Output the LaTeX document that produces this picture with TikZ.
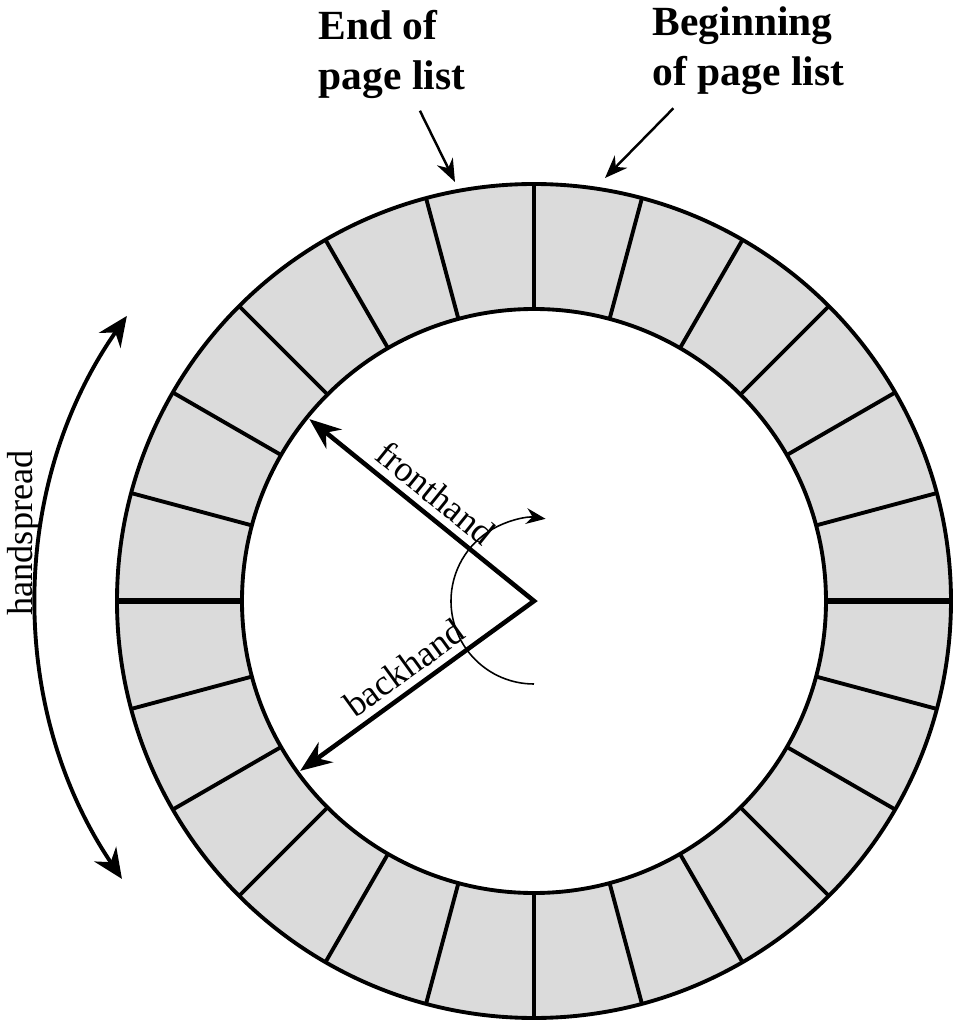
\documentclass[tikz,border=0pt]{standalone}
\usepackage{fontspec}
\setmainfont{Liberation Serif}
\usetikzlibrary{arrows.meta}

\begin{document}
\begin{tikzpicture}[x=0.01cm,y=0.01cm,
  spoke/.style={line width=1.1pt},
  handline/.style={line width=1.3pt,line join=miter,{Stealth[length=9pt,width=7pt]}-{Stealth[length=9pt,width=7pt]}},
  pointer/.style={line width=0.7pt,-{Stealth[length=6.5pt,width=5pt]}},
  tag/.style={font=\fontsize{11.8}{14.2}\selectfont\bfseries,align=left,inner sep=0pt},
  handtag/.style={font=\fontsize{10.3}{12}\selectfont,inner sep=2pt}]
\useasboundingbox (-534,-423) rectangle (421,601);
\coordinate (hub) at (0,0);
\fill[black!14,even odd rule] (hub) circle[radius=417] (hub) circle[radius=292];
\foreach \a in {15,30,...,165,195,210,...,345}
  \draw[spoke] (\a:292) -- (\a:417);
\draw[spoke,line width=1.8pt] (0:292) -- (0:417) (180:292) -- (180:417);
\draw[spoke] (hub) circle[radius=417] (hub) circle[radius=292];
\coordinate (fronttip) at (141:289);
\coordinate (backtip) at (216:289);
\draw[handline] (fronttip) -- node[handtag,sloped,above] (frontlabel) {fronthand} (hub)
  -- node[handtag,sloped,above] (backlabel) {backhand} (backtip);
\coordinate (turnstart) at (270:83);
\draw[line width=0.45pt,-{Stealth[length=5.5pt,width=4.5pt]}] (turnstart) arc[start angle=270,end angle=82,radius=83];
\coordinate (spreadtop) at (145:497);
\draw[line width=1.1pt,{Stealth[length=8.5pt,width=7.5pt]}-{Stealth[length=8.5pt,width=7.5pt]}] (spreadtop) arc[start angle=145,end angle=214,radius=497];
\node[handtag,rotate=90] (spreadlabel) at (-510,68) {handspread};
\node[tag,anchor=north west] (endlabel) at (-216,591) {End of\\page list};
\node[tag,anchor=north west] (beginlabel) at (118,595) {Beginning\\of page list};
\coordinate (endtip) at (-79,419);
\coordinate (begintip) at (71,423);
\draw[pointer] ([shift={(28,-11)}]endlabel.south) -- (endtip);
\draw[pointer] ([shift={(-75,-13)}]beginlabel.south) -- (begintip);
\end{tikzpicture}
\end{document}
